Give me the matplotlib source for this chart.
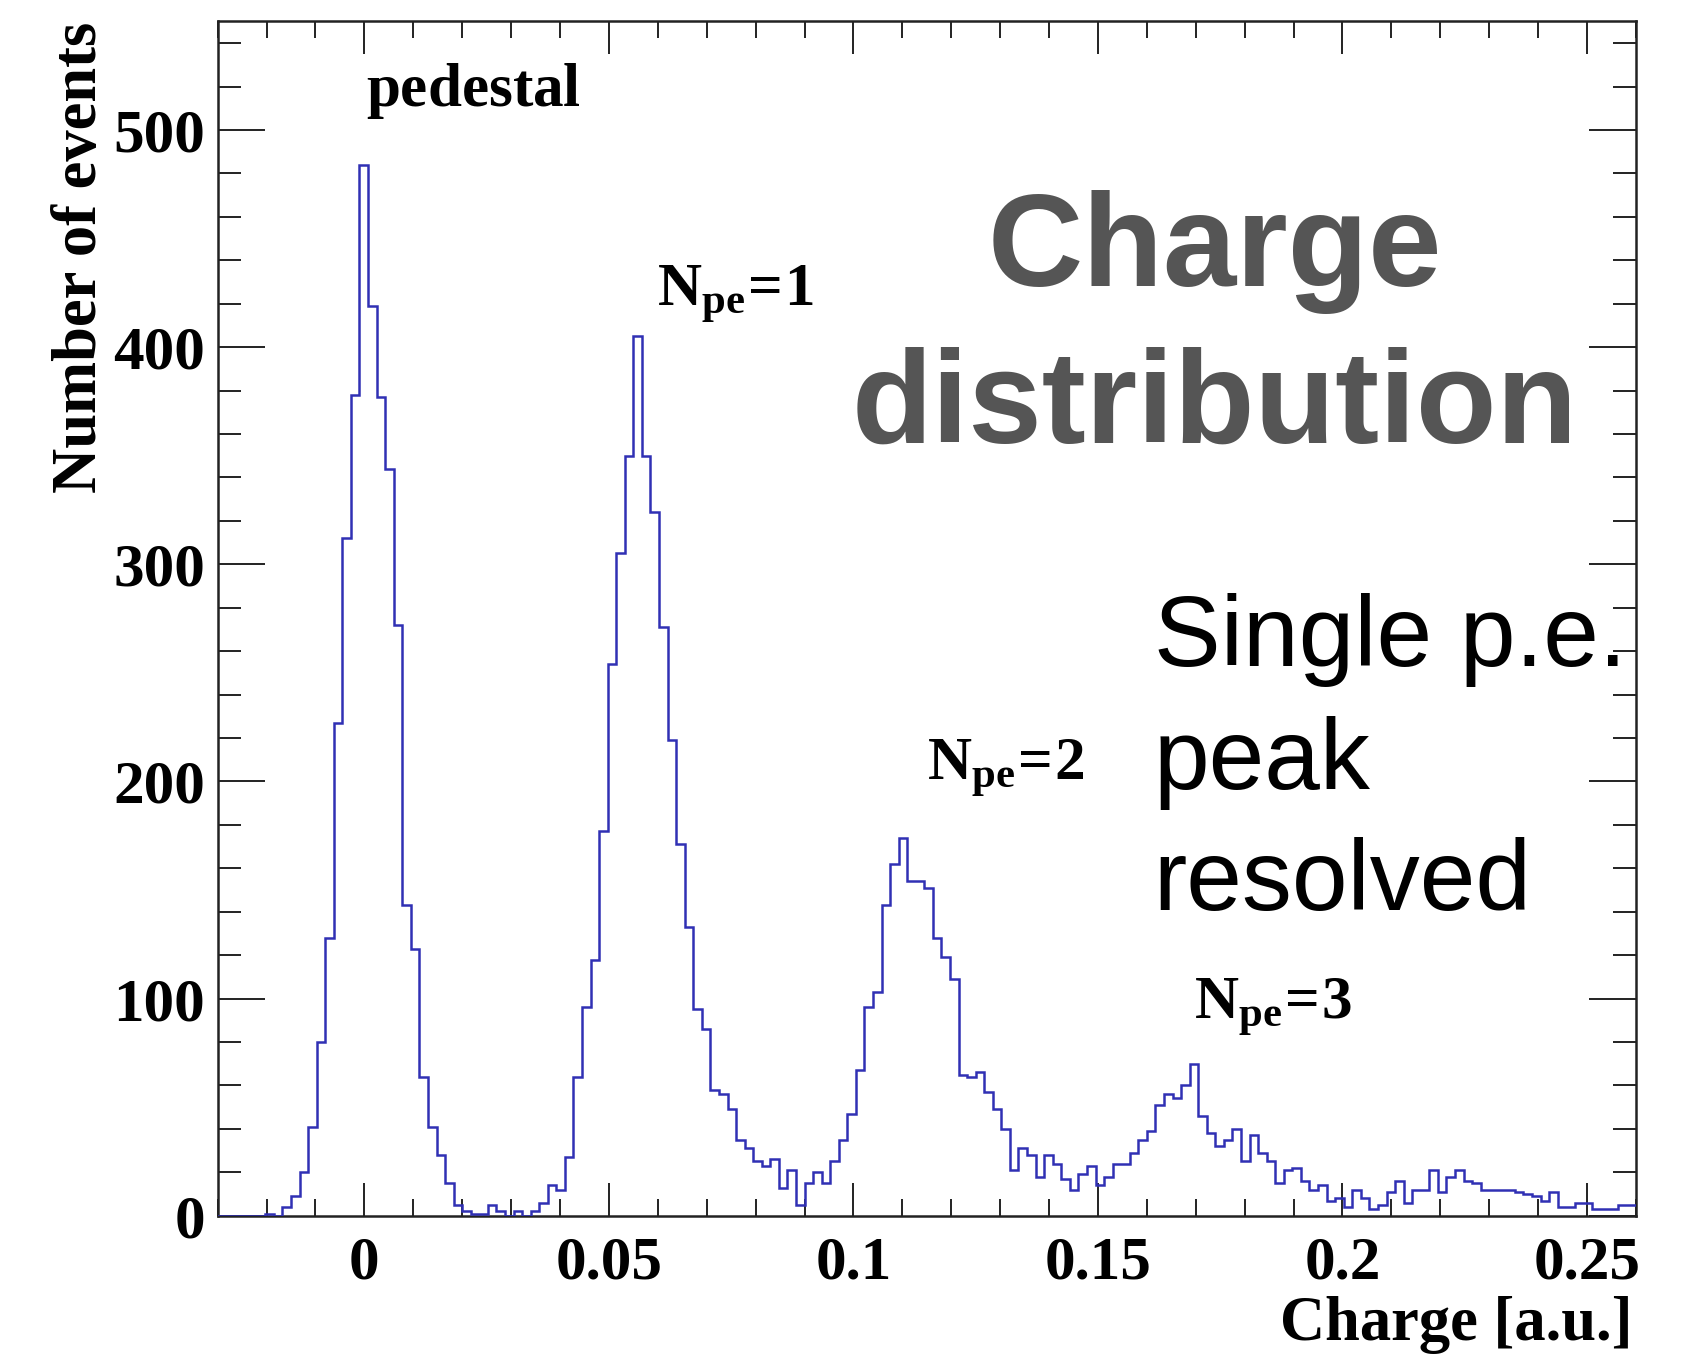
import numpy as np
import matplotlib
matplotlib.use("Agg")
import matplotlib.pyplot as plt
from matplotlib.ticker import MultipleLocator, FixedLocator

# ---------------- data ----------------
bin_first_edge = -0.03075   # left edge of first listed bin
bin_width = 0.00175
counts = [
    0, 0, 0, 0, 0, 0,                      # -0.031 .. -0.020
    1, 0, 4, 9, 20, 41, 80, 128, 227, 312, 378,
    484, 419, 377, 344, 272, 143, 123, 64, 41, 28, 15,
    5, 2, 1, 1, 5, 2, 0, 2, 0, 2, 6, 14, 12, 27,
    64, 96, 118, 177, 254, 305, 350, 405, 350, 324, 271, 219, 171,
    133, 95, 86, 58, 56, 49, 35, 31, 25, 23, 26, 13, 21, 5, 15, 20, 15,
    25, 35, 47, 67, 96, 103, 143, 162, 174, 154, 154, 151, 128, 119, 109,
    65, 64, 66, 57, 49, 40, 21, 31, 28, 18, 28, 24, 17, 12, 19, 23, 14,
    18, 24, 24, 29, 35, 39, 51, 56, 54, 60, 70, 46, 38, 32, 35, 40, 25,
    37, 29, 25, 15, 21, 22, 16, 12, 14, 7, 8, 4, 12, 8, 3, 5, 11, 16, 6,
    12, 12, 21, 11, 18, 21, 16, 15, 12, 12, 12, 12, 11, 10, 9, 7, 11, 4,
    4, 6, 6, 3, 3, 3, 5, 5, 5,
]
x_ticks = [0, 0.05, 0.1, 0.15, 0.2, 0.25]
x_tick_labels = ["0", "0.05", "0.1", "0.15", "0.2", "0.25"]
y_ticks = [0, 100, 200, 300, 400, 500]
y_tick_labels = ["0", "100", "200", "300", "400", "500"]

peak_labels = [(0.0003, 511, r"$\mathrm{pedestal}$"),
               (0.0598, 419, r"$\mathrm{N_{pe}\!=\!1}$"),
               (0.1150, 201, r"$\mathrm{N_{pe}\!=\!2}$"),
               (0.1696, 91, r"$\mathrm{N_{pe}\!=\!3}$")]

# ---------------- style ----------------
plt.rcParams["font.family"] = ["Liberation Serif", "DejaVu Serif"]
plt.rcParams["font.weight"] = "bold"
plt.rcParams["mathtext.fontset"] = "custom"
plt.rcParams["mathtext.rm"] = "Liberation Serif:bold"
plt.rcParams["mathtext.it"] = "Liberation Serif:bold"
plt.rcParams["mathtext.bf"] = "Liberation Serif:bold"

fig = plt.figure(figsize=(16.9, 13.57), dpi=100)
ax = fig.add_axes([0.1288, 0.1041, 0.968 - 0.1288, 0.9842 - 0.1041])

edges = bin_first_edge + bin_width * np.arange(len(counts) + 1)
ax.stairs(counts, edges, color="#3030b4", linewidth=1.8, baseline=0, zorder=3)

ax.set_xlim(-0.03, 0.26)
ax.set_ylim(0, 550)

ax.xaxis.set_major_locator(FixedLocator(x_ticks))
ax.set_xticklabels(x_tick_labels)
ax.xaxis.set_minor_locator(MultipleLocator(0.01))
ax.yaxis.set_major_locator(FixedLocator(y_ticks))
ax.set_yticklabels(y_tick_labels)
ax.yaxis.set_minor_locator(MultipleLocator(20))

ax.tick_params(which="both", direction="in", top=True, right=True,
               color="#222222", width=1.4, labelsize=44)
ax.tick_params(axis="y", which="major", length=33.6, pad=9)
ax.tick_params(axis="y", which="minor", length=16.8)
ax.tick_params(axis="x", which="major", length=24, pad=14)
ax.tick_params(axis="x", which="minor", length=12)
for lab in ax.get_xticklabels() + ax.get_yticklabels():
    lab.set_fontweight("bold")

for sp in ax.spines.values():
    sp.set_linewidth(1.8)
    sp.set_color("#222222")

# axis titles (ROOT style)
fig.text(81 / 1690, 1 - 21.5 / 1357, "Number of events", rotation=90,
         ha="center", va="top", fontsize=45, fontweight="bold")
fig.text(1633 / 1690, 1 - 1324.5 / 1357, "Charge [a.u.]",
         ha="right", va="center", fontsize=45, fontweight="bold")

# peak annotations
for x, y, s in peak_labels:
    ax.text(x, y, s, ha="left", va="baseline", fontsize=44)

# overlay texts
ax.text(0.1739, 428, "Charge", ha="center", va="baseline", fontsize=95,
        fontweight="bold", color="#555555", family=["Liberation Sans", "DejaVu Sans"])
ax.text(0.1739, 356, "distribution", ha="center", va="baseline", fontsize=95,
        fontweight="bold", color="#555555", family=["Liberation Sans", "DejaVu Sans"])

for y, s in [(253, "Single p.e."), (196.7, "peak"), (140.7, "resolved")]:
    ax.text(0.1614, y, s, ha="left", va="baseline", fontsize=72,
            fontweight="normal", color="black", family=["Liberation Sans", "DejaVu Sans"])

fig.savefig("out.png", dpi=100, facecolor="white")
